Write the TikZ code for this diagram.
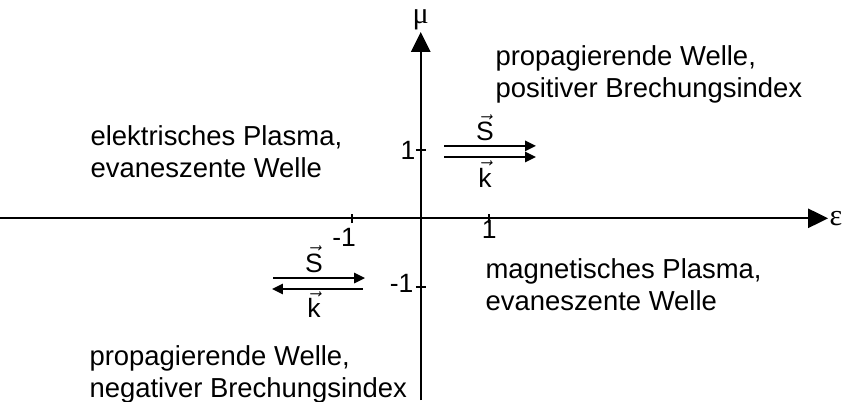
\documentclass[tikz,border=0pt]{standalone}
\usepackage{amsmath}
\usepackage{fontspec}
\setmainfont{Liberation Sans}
\newfontfamily\griechisch{Liberation Serif}
\usetikzlibrary{arrows.meta}

\begin{document}
\begin{tikzpicture}[>=Stealth,
    achse/.style={line width=0.75pt,-{Triangle[length=2.9mm,width=2.8mm]}},
    pfeil/.style={line width=0.85pt,-{Triangle[length=1.6mm,width=1.5mm]}},
    beschriftung/.style={font=\fontsize{11.4}{13.3}\selectfont,align=left,inner sep=0pt,anchor=north west},
    zahl/.style={font=\fontsize{11}{13}\selectfont,inner sep=0pt},
    griech/.style={font=\fontsize{12.5}{14}\selectfont\griechisch,inner sep=0pt}]
  \useasboundingbox (-6.142,-2.667) rectangle (6.150,3.187);
  % Achsen
  \coordinate (xlinks) at (-6.142,0);
  \coordinate (xrechts) at (5.946,0);
  \coordinate (yunten) at (0,-2.653);
  \coordinate (yoben) at (0,2.720);
  \draw[achse] (xlinks) -- (xrechts);
  \draw[achse] (yunten) -- (yoben);
  \node[griech] (eps) at (6.06,0) {ε};
  \node[griech] (mu) at (0,2.90) {μ};
  % Teilstriche
  \foreach \t in {-1,1} {
    \draw[line width=0.75pt] (\t,-0.07) -- (\t,0.07);
    \draw[line width=0.75pt] (-0.07,\t) -- (0.07,\t);
  }
  \node[zahl] (xeins) at (1,-0.155) {1};
  \node[zahl] (xmeins) at (-1.118,-0.274) {-1};
  \node[zahl] (yeins) at (-0.185,0.997) {1};
  \node[zahl] (ymeins) at (-0.28,-0.945) {-1};
  % S und k, oben rechts
  \coordinate (s1a) at (0.34,1.057);
  \coordinate (s1b) at (1.683,1.057);
  \coordinate (k1a) at (0.34,0.895);
  \coordinate (k1b) at (1.683,0.895);
  \draw[pfeil] (s1a) -- (s1b);
  \draw[pfeil] (k1a) -- (k1b);
  \node[zahl,anchor=base] (S1) at (0.939,1.137) {$\vec{\text{S}}$};
  \node[zahl,anchor=base] (k1) at (0.939,0.457) {$\vec{\text{k}}$};
  % S und k, unten links
  \coordinate (s2a) at (-2.156,-0.872);
  \coordinate (s2b) at (-0.813,-0.872);
  \coordinate (k2a) at (-0.843,-1.032);
  \coordinate (k2b) at (-2.171,-1.032);
  \draw[pfeil] (s2a) -- (s2b);
  \draw[pfeil] (k2a) -- (k2b);
  \node[zahl,anchor=base] (S2) at (-1.557,-0.784) {$\vec{\text{S}}$};
  \node[zahl,anchor=base] (k2) at (-1.557,-1.454) {$\vec{\text{k}}$};
  % Quadranten
  \node[beschriftung] (q1) at (1.085,2.531) {propagierende Welle,\\positiver Brechungsindex};
  \node[beschriftung] (q2) at (-4.827,1.363) {elektrisches Plasma,\\evaneszente Welle};
  \node[beschriftung] (q4) at (0.939,-0.579) {magnetisches Plasma,\\evaneszente Welle};
  \node[beschriftung] (q3) at (-4.842,-1.849) {propagierende Welle,\\negativer Brechungsindex};
\end{tikzpicture}
\end{document}
